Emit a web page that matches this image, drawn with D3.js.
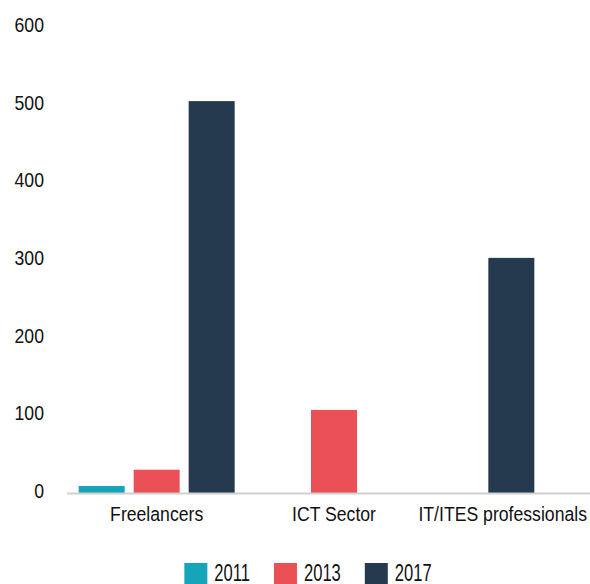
<!DOCTYPE html>
<html>
<head>
<meta charset="utf-8">
<script src="https://cdn.jsdelivr.net/npm/d3@7"></script>
<style>
  html, body { margin: 0; padding: 0; background: #fff; }
  svg { display: block; }
  text { font-family: "Liberation Sans", Arial, sans-serif; fill: #111; }
</style>
</head>
<body>
<svg id="chart" width="590" height="584"></svg>
<script>
// Categories, series and values
const categories = ["Freelancers", "ICT Sector", "IT/ITES professionals"];
const seriesNames = ["2011", "2013", "2017"];
const values2011 = [9, null, null];
const values2013 = [30, 107, null];
const values2017 = [505, null, 303];
const yTicks = [0, 100, 200, 300, 400, 500, 600];
const colors = ["#16a4b9", "#eb5056", "#25394f"];

const seriesValues = [values2011, values2013, values2017];

const svg = d3.select("#chart");
const W = 590;

// Narrow the glyphs horizontally to get a condensed face
function condense(sel, factor) {
  sel.each(function() {
    const len = this.getComputedTextLength();
    d3.select(this)
      .attr("textLength", len * factor)
      .attr("lengthAdjust", "spacingAndGlyphs");
  });
}

const y = d3.scaleLinear().domain([0, 600]).range([493, 27.4]);
const x0 = d3.scaleBand().domain(categories).range([68, 600]);
const barStep = 55, barWidth = 46;

// Y tick labels (no axis line, no grid)
svg.append("g").selectAll("text")
  .data(yTicks)
  .join("text")
  .attr("x", 44)
  .attr("y", d => y(d) + 4.7)
  .attr("text-anchor", "end")
  .style("font-size", "21px")
  .text(d => d)
  .call(condense, 0.84);

// Bars: within each category only the series with a value are drawn, centred on the category
const groups = svg.append("g").selectAll("g")
  .data(categories)
  .join("g");

groups.each(function(cat, ci) {
  const present = seriesNames
    .map((s, si) => ({ series: s, si, value: seriesValues[si][ci] }))
    .filter(d => d.value != null);
  const cx = x0(cat) + x0.bandwidth() / 2;
  const span = present.length * barStep;
  const x1 = d3.scaleBand()
    .domain(present.map(d => d.series))
    .range([cx - span / 2, cx + span / 2])
    .paddingInner((barStep - barWidth) / barStep)
    .paddingOuter((barStep - barWidth) / barStep / 2);
  d3.select(this).selectAll("rect")
    .data(present)
    .join("rect")
    .attr("x", d => x1(d.series))
    .attr("width", x1.bandwidth())
    .attr("y", d => y(d.value))
    .attr("height", d => y(0) - y(d.value))
    .attr("fill", d => colors[d.si]);
});

// Category axis line
svg.append("line")
  .attr("x1", 67).attr("x2", W)
  .attr("y1", y(0) + 0.5).attr("y2", y(0) + 0.5)
  .attr("stroke", "#d0d0d0")
  .attr("stroke-width", 2);

// Category labels, kept inside the chart width
svg.append("g").selectAll("text")
  .data(categories)
  .join("text")
  .attr("x", d => x0(d) + x0.bandwidth() / 2)
  .attr("y", 521)
  .attr("text-anchor", "middle")
  .style("font-size", "20.5px")
  .text(d => d)
  .call(condense, 0.86)
  .each(function() {
    const el = d3.select(this);
    const w = +el.attr("textLength");
    const cx = +el.attr("x");
    if (cx + w / 2 > W - 3) el.attr("x", W - 3 - w / 2);
  });

// Legend
const legend = svg.append("g");
const items = legend.selectAll("g")
  .data(seriesNames)
  .join("g");
items.append("rect")
  .attr("width", 23).attr("height", 21)
  .attr("y", 563)
  .attr("fill", (d, i) => colors[i]);
items.append("text")
  .attr("x", 30)
  .attr("y", 581)
  .style("font-size", "23px")
  .text(d => d)
  .call(condense, 0.72);
const widths = [];
items.each(function() {
  const w = 30 + +d3.select(this).select("text").attr("textLength");
  widths.push(w);
});
const gap = 24;
const total = d3.sum(widths) + gap * (widths.length - 1);
let start = 308 - total / 2;
items.attr("transform", (d, i) => {
  const tx = start;
  start += widths[i] + gap;
  return `translate(${tx},0)`;
});
</script>
</body>
</html>
